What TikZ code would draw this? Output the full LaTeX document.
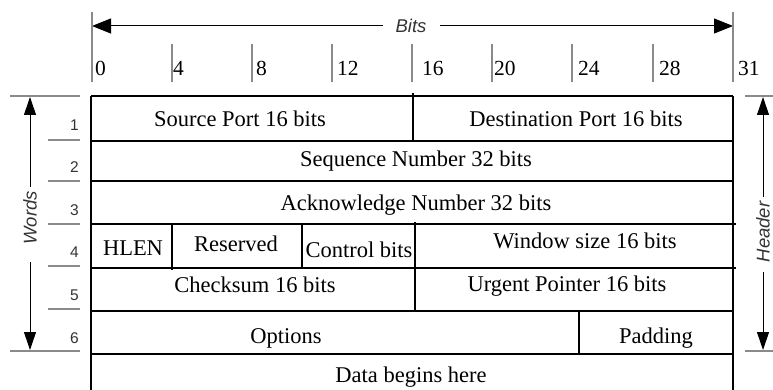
\documentclass[tikz,border=0pt]{standalone}
\usepackage{fontspec}
\setmainfont{Liberation Serif}
\setsansfont{Liberation Sans}
\usetikzlibrary{arrows.meta}
\definecolor{tickgray}{HTML}{8A8A8A}
\definecolor{labgray}{HTML}{333333}
\begin{document}
\begin{tikzpicture}[x=1pt,y=-1pt,
  cell/.style={anchor=base,inner sep=0pt,font=\fontsize{22.5}{24}\selectfont},
  ticklab/.style={anchor=base west,inner sep=0pt,font=\fontsize{21.5}{23}\selectfont},
  rownum/.style={anchor=base east,inner sep=0pt,text=labgray,font=\sffamily\fontsize{15.5}{17}\selectfont},
  axlab/.style={inner sep=0pt,text=labgray,font=\sffamily\itshape\fontsize{18.5}{20}\selectfont},
  tline/.style={line width=1.5pt,black},
  tick/.style={line width=1.6pt,tickgray},
  glin/.style={line width=1.3pt,tickgray},
  harrow/.style={line width=1pt,black,-{Triangle[length=19pt,width=15pt]}},
  varrow/.style={line width=1pt,black,-{Triangle[length=18pt,width=12pt]}}
]
\useasboundingbox (0,0) rectangle (773,390);

% ---- Bits scale ----
\coordinate (b0) at (92,26);
\coordinate (b31) at (733,26);
\node[axlab] (bits) at (411,26) {Bits};
\coordinate (bl) at (383,26);
\coordinate (br) at (440,26);
\draw[harrow] (bl) -- (b0);
\draw[harrow] (br) -- (b31);
\draw[tick] (92,12) -- (92,82);
\draw[tick] (733,12) -- (733,82);
\foreach \x in {172,252,332,412,492,572,653}
  \draw[tick] (\x,44) -- (\x,82);
\node[ticklab] (t0)  at (95,76)  {0};
\node[ticklab] (t4)  at (173,76) {4};
\node[ticklab] (t8)  at (256,76) {8};
\node[ticklab] (t12) at (337,76) {12};
\node[ticklab] (t16) at (422,76) {16};
\node[ticklab] (t20) at (494,76) {20};
\node[ticklab] (t24) at (578,76) {24};
\node[ticklab] (t28) at (659,76) {28};
\node[ticklab] (t31) at (738,76) {31};

% ---- Words scale ----
\draw[glin] (10,96) -- (80,96);
\draw[glin] (10,351) -- (80,351);
\foreach \y in {140,181,224,266,309}
  \draw[glin] (48,\y) -- (80,\y);
\node[axlab,rotate=90] (words) at (30,218) {Words};
\coordinate (wt) at (30,187);
\coordinate (wtip) at (30,97);
\coordinate (wb) at (30,262);
\coordinate (wbip) at (30,350);
\draw[varrow] (wt) -- (wtip);
\draw[varrow] (wb) -- (wbip);
\node[rownum] (n1) at (79,131) {1};
\node[rownum] (n2) at (79,173) {2};
\node[rownum] (n3) at (79,215) {3};
\node[rownum] (n4) at (79,257) {4};
\node[rownum] (n5) at (79,300) {5};
\node[rownum] (n6) at (79,343) {6};

% ---- Header scale ----
\draw[glin] (745,96) -- (773,96);
\draw[glin] (745,351) -- (773,351);
\node[axlab,rotate=90] (header) at (763,232) {Header};
\coordinate (ht) at (763,197);
\coordinate (htip) at (763,97);
\coordinate (hb) at (763,272);
\coordinate (hbip) at (763,350);
\draw[varrow] (ht) -- (htip);
\draw[varrow] (hb) -- (hbip);

% ---- Table ----
\draw[tline] (91,96) -- (91,390);
\draw[tline] (733,96) -- (733,390);
\foreach \y in {96,141,181,311,354}
  \draw[tline] (91,\y) -- (733,\y);
\foreach \y in {224,268}
  \draw[tline] (91,\y) -- (736,\y);
\draw[tline] (413,93) -- (413,141);
\draw[tline] (172,224) -- (172,270);
\draw[tline] (302,224) -- (302,268);
\draw[tline] (415,222) -- (415,311);
\draw[tline] (579,311) -- (579,354);

\node[cell] (src) at (240,127) {Source Port 16 bits};
\node[cell] (dst) at (576,127) {Destination Port 16 bits};
\node[cell] (seq) at (416,167) {Sequence Number 32 bits};
\node[cell] (ack) at (416,210) {Acknowledge Number 32 bits};
\node[cell] (hlen) at (133,255) {HLEN};
\node[cell] (res) at (236,251) {Reserved};
\node[cell] (ctl) at (359,257) {Control bits};
\node[cell] (win) at (585,248) {Window size 16 bits};
\node[cell] (chk) at (255,292) {Checksum 16 bits};
\node[cell] (urg) at (567,291) {Urgent Pointer 16 bits};
\node[cell] (opt) at (286,343) {Options};
\node[cell] (pad) at (656,343) {Padding};
\node[cell] (data) at (411,382) {Data begins here};
\end{tikzpicture}
\end{document}
